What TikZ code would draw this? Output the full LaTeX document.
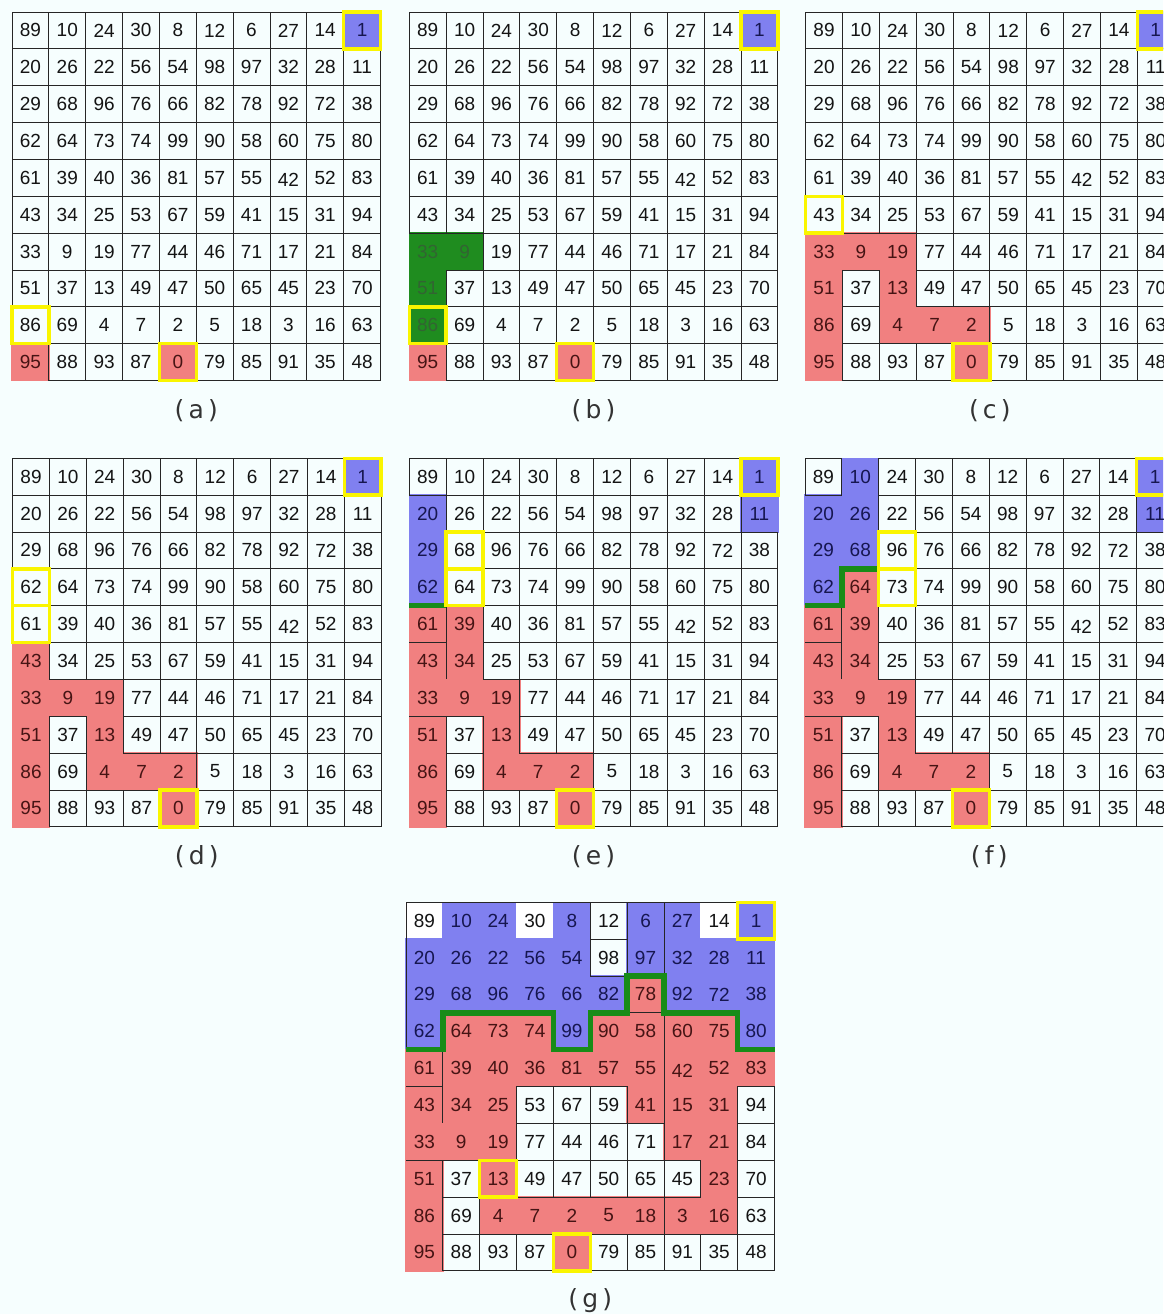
\documentclass[tikz,border=0pt]{standalone}
\usepackage{fontspec}
\setmainfont{Liberation Sans}
\newfontfamily\capfont{DejaVu Sans}
\usetikzlibrary{positioning}
\definecolor{pagebg}{RGB}{246,254,254}
\definecolor{cellred}{RGB}{241,128,128}
\definecolor{cellblue}{RGB}{128,128,240}
\definecolor{cellgreen}{RGB}{31,140,31}
\definecolor{cellbare}{RGB}{255,255,255}
\definecolor{textred}{RGB}{70,20,20}
\definecolor{textblue}{RGB}{22,22,80}
\definecolor{textgreen}{RGB}{50,100,50}
\definecolor{textbare}{RGB}{20,20,20}
\definecolor{markyellow}{RGB}{250,245,0}
\definecolor{cutgreen}{RGB}{24,140,24}

\def\cw{36.85}
\newcommand{\gridrows}{{89,10,24,30,8,12,6,27,14,1},{20,26,22,56,54,98,97,32,28,11},{29,68,96,76,66,82,78,92,72,38},{62,64,73,74,99,90,58,60,75,80},{61,39,40,36,81,57,55,42,52,83},{43,34,25,53,67,59,41,15,31,94},{33,9,19,77,44,46,71,17,21,84},{51,37,13,49,47,50,65,45,23,70},{86,69,4,7,2,5,18,3,16,63},{95,88,93,87,0,79,85,91,35,48}}

% colour of cells in one panel: panel, kind, list of row/col
\newcommand{\paint}[3]{\foreach \rc in {#3}{\expandafter\xdef\csname cell:#1:\rc\endcsname{#2}}}

% one 10x10 panel: name, left, top, caption
\newcommand{\drawpanel}[4]{%
  \begin{scope}[shift={(#2,#3)}]
    \foreach \row [count=\ri from 0] in \gridrows {
      \foreach \val [count=\ci from 0] in \row {
        \ifcsname cell:#1:\ri/\ci\endcsname
          \colorlet{fillnow}{cell\csname cell:#1:\ri/\ci\endcsname}
          \fill[fillnow] (\ci*\cw-0.7,\ri*\cw-0.7) rectangle ++(\cw+1.4,\cw+1.4);
        \fi
      }
    }
    \foreach \row [count=\ri from 0] in \gridrows {
      \foreach \val [count=\ci from 0] in \row {
        \ifcsname cell:#1:\ri/\ci\endcsname\else
          \draw[gridline] (\ci*\cw,\ri*\cw) rectangle ++(\cw,\cw);
        \fi
      }
    }
    \foreach \row [count=\ri from 0] in \gridrows {
      \foreach \val [count=\ci from 0] in \row {
        \ifcsname cell:#1:\ri/\ci\endcsname
          \colorlet{numnow}{text\csname cell:#1:\ri/\ci\endcsname}
        \else
          \colorlet{numnow}{textbare}
        \fi
        \ifnum\val=42 \def\dy{-2.5pt}\else\def\dy{0pt}\fi
        \node[num, text=numnow, yshift=\dy] (#1-\ri-\ci) at ({(\ci+0.5)*\cw},{(\ri+0.5)*\cw}) {\val};
      }
    }
    \node[caption] (#1-cap) at (5*\cw,10*\cw+30) {(\,#4\,)};
  \end{scope}}

% yellow frames: left, top, list of row/col
\newcommand{\markcells}[3]{%
  \begin{scope}[shift={(#1,#2)}]
    \foreach \ri/\ci in {#3} {\draw[markbox] (\ci*\cw,\ri*\cw) rectangle ++(\cw,\cw);}
  \end{scope}}

\begin{document}
\begin{tikzpicture}[x=1pt, y=-1pt,
    gridline/.style={draw=black!85, line width=0.9pt},
    num/.style={font=\fontsize{19}{19}\selectfont, inner sep=0pt},
    caption/.style={font=\capfont\fontsize{25}{25}\selectfont, text=black!80},
    markbox/.style={draw=markyellow, line width=3.4pt},
    cutline/.style={draw=cutgreen, line width=5.5pt}
  ]
  \useasboundingbox (0,0) rectangle (1163,1314);
  \fill[pagebg] (0,0) rectangle (1163,1314);
  \clip (0,0) rectangle (1163,1314);

  % states of the seven panels
  \paint{a}{blue}{0/9}
  \paint{a}{red}{9/0,9/4}
  \paint{b}{blue}{0/9}
  \paint{b}{green}{6/0,6/1,7/0,8/0}
  \paint{b}{red}{9/0,9/4}
  \paint{c}{blue}{0/9}
  \paint{c}{red}{6/0,6/1,6/2,7/0,7/2,8/0,8/2,8/3,8/4,9/0,9/4}
  \paint{d}{blue}{0/9}
  \paint{d}{red}{5/0,6/0,6/1,6/2,7/0,7/2,8/0,8/2,8/3,8/4,9/0,9/4}
  \paint{e}{blue}{0/9,1/9,1/0,2/0,3/0}
  \paint{e}{red}{4/0,4/1,5/0,5/1,6/0,6/1,6/2,7/0,7/2,8/0,8/2,8/3,8/4,9/0,9/4}
  \paint{f}{blue}{0/9,1/9,0/1,1/0,1/1,2/0,2/1,3/0}
  \paint{f}{red}{3/1,4/0,4/1,5/0,5/1,6/0,6/1,6/2,7/0,7/2,8/0,8/2,8/3,8/4,9/0,9/4}
  \paint{g}{bare}{0/0,0/3,0/8}
  \paint{g}{blue}{0/1,0/2,0/4,0/6,0/7,0/9,1/0,1/1,1/2,1/3,1/4,1/6,1/7,1/8,1/9,2/0,2/1,2/2,2/3,2/4,2/5,2/7,2/8,2/9,3/0,3/4,3/9}
  \paint{g}{red}{2/6,3/1,3/2,3/3,3/5,3/6,3/7,3/8,4/0,4/1,4/2,4/3,4/4,4/5,4/6,4/7,4/8,4/9,5/0,5/1,5/2,5/6,5/7,5/8,6/0,6/1,6/2,6/7,6/8,7/0,7/2,7/8,8/0,8/2,8/3,8/4,8/5,8/6,8/7,8/8,9/0,9/4}

  \drawpanel{a}{12}{12}{a}
  \drawpanel{b}{409.3}{12}{b}
  \drawpanel{c}{805.6}{12}{c}
  \drawpanel{d}{12.6}{458.3}{d}
  \drawpanel{e}{409.3}{458.3}{e}
  \drawpanel{f}{805}{458.3}{f}
  \drawpanel{g}{406}{902.3}{g}

  % left-over cell lines inside the regions
  \begin{scope}[shift={(409.3,458.3)}]
    \draw[gridline] (0,5*\cw) -- (\cw,5*\cw) (\cw,4*\cw) -- (\cw,6*\cw) (0,7*\cw) -- (\cw,7*\cw);
    \draw[cutline] (0,4*\cw) -- (\cw,4*\cw);
  \end{scope}
  \begin{scope}[shift={(805,458.3)}]
    \draw[gridline] (0,5*\cw) -- (\cw,5*\cw) (\cw,4*\cw) -- (\cw,6*\cw) (0,7*\cw) -- (\cw,7*\cw);
    \draw[cutline] (0,4*\cw) -- (\cw,4*\cw) -- (\cw,3*\cw) -- (2*\cw,3*\cw);
  \end{scope}
  \begin{scope}[shift={(406,902.3)}]
    \draw[gridline] (0,0) -- (10*\cw,0) (0,0) -- (0,4*\cw);
    \draw[gridline] (0,5*\cw) -- (\cw,5*\cw) (\cw,4*\cw) -- (\cw,6*\cw) (0,7*\cw) -- (\cw,7*\cw);
    \draw[gridline] (7*\cw,0) -- (7*\cw,9*\cw) (6*\cw,3*\cw) -- (7*\cw,3*\cw);
    \draw[cutline] (0,4*\cw) -- (\cw,4*\cw) -- (\cw,3*\cw) -- (4*\cw,3*\cw) -- (4*\cw,4*\cw) -- (5*\cw,4*\cw) -- (5*\cw,3*\cw) -- (6*\cw,3*\cw) -- (6*\cw,2*\cw) -- (7*\cw,2*\cw) -- (7*\cw,3*\cw) -- (9*\cw,3*\cw) -- (9*\cw,4*\cw) -- (10*\cw,4*\cw);
  \end{scope}

  % yellow frames
  \markcells{12}{12}{0/9,8/0,9/4}
  \markcells{409.3}{12}{0/9,8/0,9/4}
  \markcells{805.6}{12}{0/9,5/0,9/4}
  \markcells{12.6}{458.3}{0/9,3/0,4/0,9/4}
  \markcells{409.3}{458.3}{0/9,2/1,3/1,9/4}
  \markcells{805}{458.3}{0/9,2/2,3/2,9/4}
  \markcells{406}{902.3}{0/9,7/2,9/4}
\end{tikzpicture}
\end{document}
